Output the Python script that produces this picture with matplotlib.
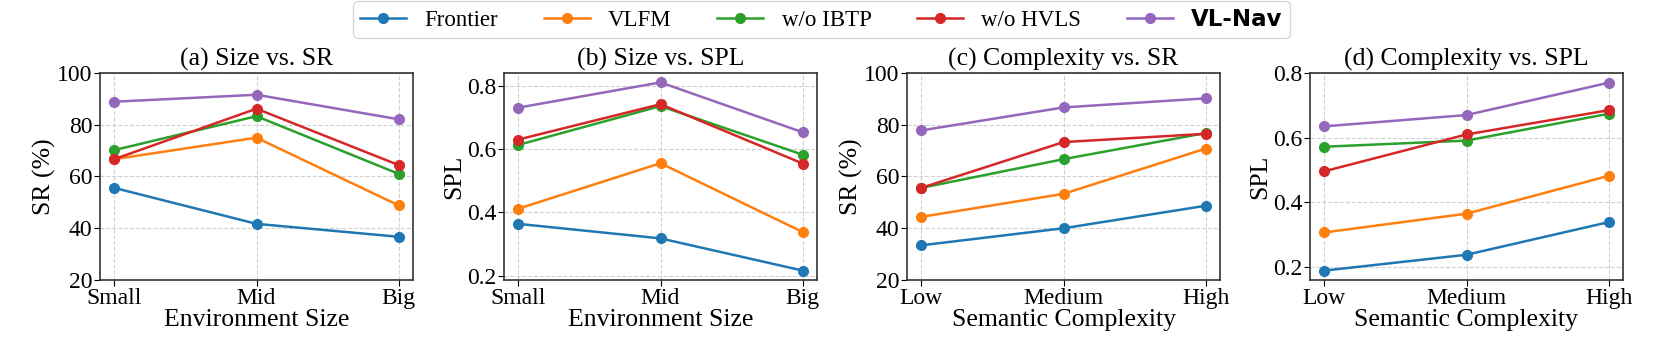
import matplotlib
matplotlib.use("Agg")
import matplotlib.pyplot as plt

plt.rcParams['font.family'] = ['Liberation Serif', 'DejaVu Serif']
plt.rcParams['mathtext.fontset'] = 'stix'

methods = ["Frontier", "VLFM", "w/o IBTP", "w/o HVLS", "VL-Nav"]
colors = ["#1f77b4", "#ff7f0e", "#2ca02c", "#d62728", "#9467bd"]

size_cats = ["Small", "Mid", "Big"]
comp_cats = ["Low", "Medium", "High"]

size_sr = {
    "Frontier": [55.6, 41.7, 36.7],
    "VLFM": [66.7, 75.0, 48.8],
    "w/o IBTP": [70.2, 83.3, 61.0],
    "w/o HVLS": [66.7, 86.2, 64.4],
    "VL-Nav": [88.9, 91.6, 82.1],
}
size_spl = {
    "Frontier": [0.364, 0.318, 0.216],
    "VLFM": [0.412, 0.556, 0.338],
    "w/o IBTP": [0.614, 0.737, 0.583],
    "w/o HVLS": [0.631, 0.743, 0.555],
    "VL-Nav": [0.732, 0.812, 0.654],
}
comp_sr = {
    "Frontier": [33.4, 40.0, 48.7],
    "VLFM": [44.4, 53.3, 70.8],
    "w/o IBTP": [55.6, 66.7, 76.8],
    "w/o HVLS": [55.6, 73.3, 76.5],
    "VL-Nav": [77.8, 86.7, 90.2],
}
comp_spl = {
    "Frontier": [0.189, 0.238, 0.339],
    "VLFM": [0.307, 0.365, 0.482],
    "w/o IBTP": [0.572, 0.591, 0.674],
    "w/o HVLS": [0.496, 0.610, 0.685],
    "VL-Nav": [0.635, 0.670, 0.770],
}

panels = [
    ("(a) Size vs. SR", size_cats, size_sr, "Environment Size", "SR (%)", (20, 100)),
    ("(b) Size vs. SPL", size_cats, size_spl, "Environment Size", "SPL", None),
    ("(c) Complexity vs. SR", comp_cats, comp_sr, "Semantic Complexity", "SR (%)", (20, 100)),
    ("(d) Complexity vs. SPL", comp_cats, comp_spl, "Semantic Complexity", "SPL", None),
]

fig = plt.figure(figsize=(16.61, 3.54), dpi=100)
lefts = [100, 504, 907, 1310]
W, H = 1661, 354
axw = 313
bottom_px, top_px = 280, 73
handles = []
for i, (title, cats, data, xl, yl, ylim) in enumerate(panels):
    ax = fig.add_axes([lefts[i] / W, 1 - bottom_px / H, axw / W, (bottom_px - top_px) / H])
    x = list(range(len(cats)))
    for m, c in zip(methods, colors):
        h, = ax.plot(x, data[m], '-o', color=c, lw=1.8, ms=7, label=m)
        if i == 0:
            handles.append(h)
    ax.set_xticks(x)
    ax.set_xticklabels(cats)
    if ylim:
        ax.set_ylim(*ylim)
        ax.set_yticks([20, 40, 60, 80, 100])
    else:
        ax.set_yticks([0.2, 0.4, 0.6, 0.8])
    ax.set_title(title, fontsize=18.5, pad=5)
    ax.set_xlabel(xl, fontsize=18.5, labelpad=0)
    ax.set_ylabel(yl, fontsize=18.5, labelpad=1)
    ax.tick_params(labelsize=17, pad=1.5, length=4)
    ax.grid(True, linestyle='--', color='#cccccc', lw=0.8, alpha=0.9)
    for s in ax.spines.values():
        s.set_color('#333333')
        s.set_linewidth(1.2)

leg = fig.legend(handles, methods, loc='upper center', ncol=5, fontsize=16.5,
                 bbox_to_anchor=(0.4945, 0.997), frameon=True, handlelength=2.0,
                 columnspacing=2.0, handletextpad=0.8, borderpad=0.3,
                 borderaxespad=0.0, fancybox=True)
leg.get_frame().set_edgecolor('#cccccc')
t = leg.get_texts()[4]
t.set_fontfamily('DejaVu Sans')
t.set_fontweight('bold')

fig.savefig("out.png", dpi=100)
